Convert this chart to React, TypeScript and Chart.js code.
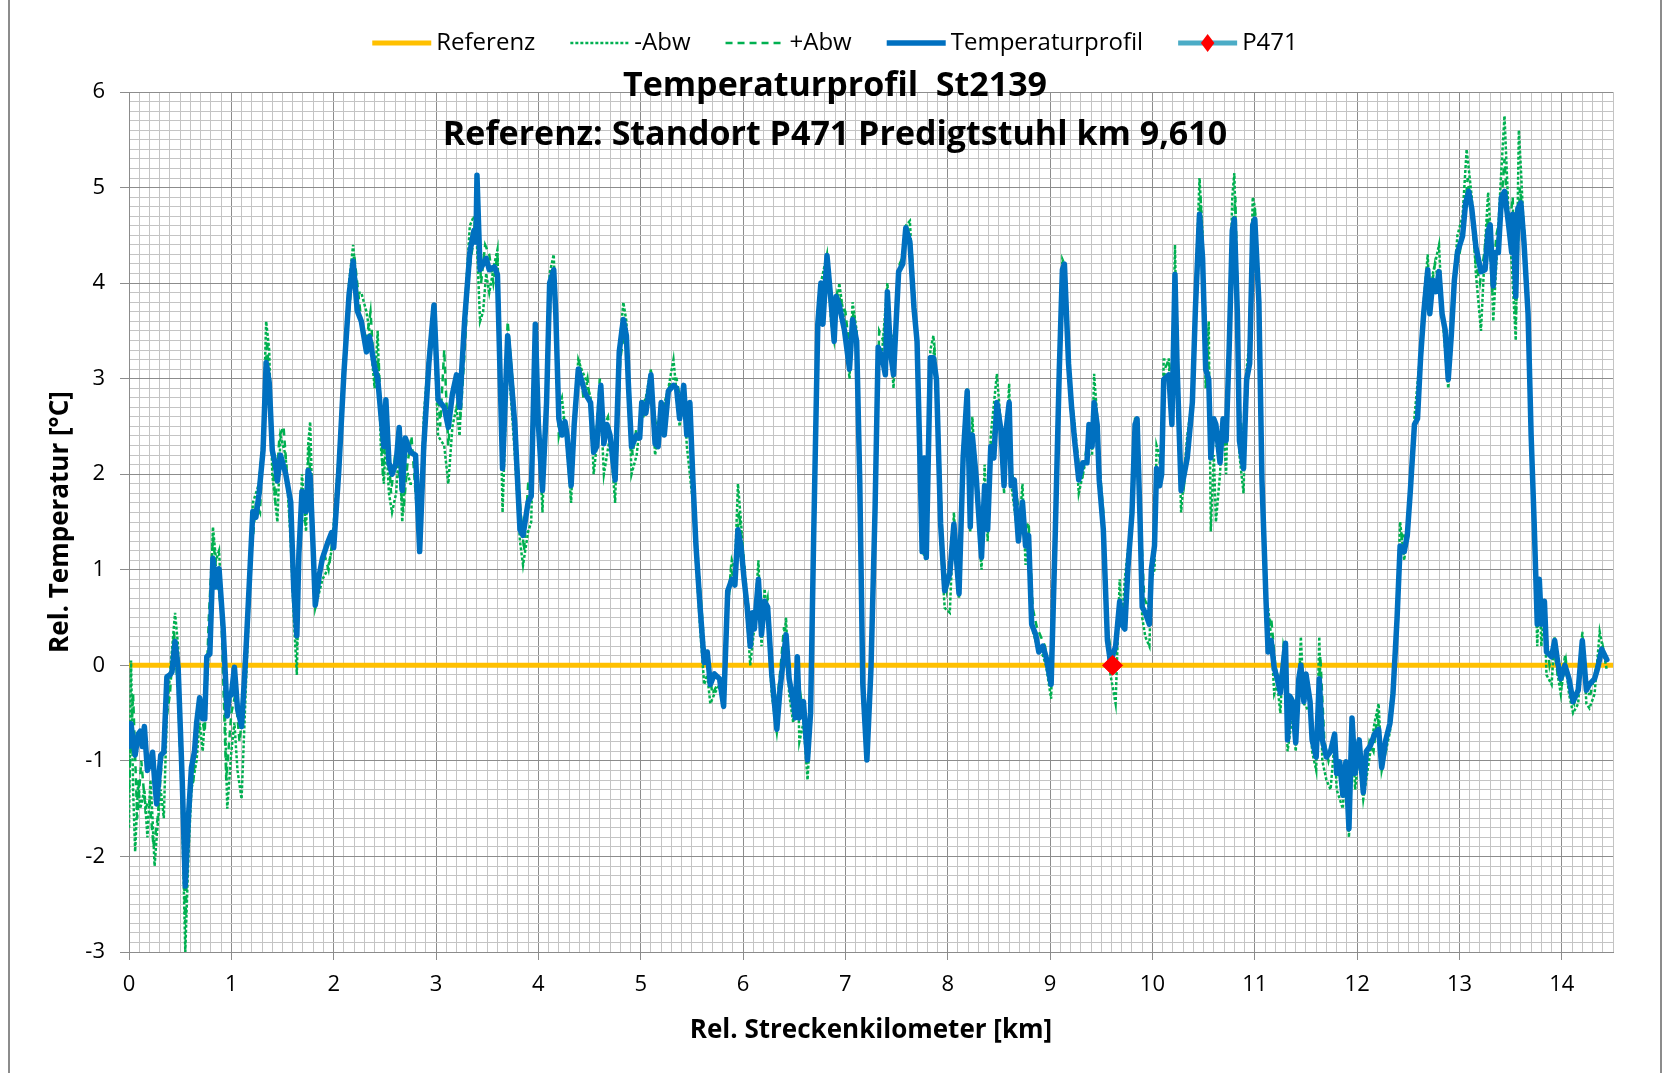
import React, { useEffect, useRef } from 'react';
import { Chart, registerables } from 'chart.js';

Chart.register(...registerables);

const FONT = '"Open Sans", Lato, sans-serif';

const titleLines = ['Temperaturprofil  St2139', 'Referenz: Standort P471 Predigtstuhl km 9,610'];
const xAxisTitle = 'Rel. Streckenkilometer [km]';
const yAxisTitle = 'Rel. Temperatur [°C]';
const legendLabels = ['Referenz', '-Abw', '+Abw', 'Temperaturprofil', 'P471'];

const xMin = 0;
const xMax = 14.5;
const yMin = -3;
const yMax = 6;
const gridStep = 0.1;

const referenz: [number, number][] = [[0, 0], [14.5, 0]];
const p471: [number, number][] = [[9.61, 0]];

const temperaturprofil: [number, number][] = [
  [0.00,-0.85],[0.02,-0.61],[0.04,-0.8],[0.06,-0.94],[0.09,-0.72],[0.11,-0.69],[0.13,-0.85],[0.15,-0.64],[0.18,-1.1],[0.21,-1.0],
  [0.23,-0.91],[0.25,-1.2],[0.27,-1.45],[0.29,-1.2],[0.31,-0.94],[0.34,-0.91],[0.37,-0.12],[0.40,-0.1],[0.42,-0.07],[0.45,0.25],
  [0.48,-0.02],[0.52,-1.2],[0.55,-2.31],[0.58,-1.6],[0.61,-1.07],[0.64,-0.9],[0.66,-0.61],[0.69,-0.34],[0.72,-0.56],[0.74,-0.56],
  [0.76,0.09],[0.79,0.12],[0.82,1.12],[0.85,0.82],[0.88,1.01],[0.92,0.39],[0.96,-0.53],[0.98,-0.3],[1.00,-0.31],[1.03,-0.02],
  [1.06,-0.45],[1.10,-0.64],[1.13,-0.1],[1.15,0.31],[1.18,0.96],[1.21,1.61],[1.24,1.55],[1.27,1.79],[1.31,2.25],[1.34,3.17],
  [1.37,2.96],[1.40,2.25],[1.43,2.1],[1.45,1.93],[1.48,2.2],[1.53,2.01],[1.58,1.71],[1.61,0.79],[1.64,0.31],[1.66,1.17],
  [1.69,1.82],[1.73,1.61],[1.75,2.04],[1.77,1.98],[1.80,1.2],[1.82,0.63],[1.86,0.95],[1.89,1.12],[1.94,1.28],[1.98,1.39],
  [2.00,1.23],[2.05,2.04],[2.10,3.06],[2.15,3.88],[2.19,4.23],[2.23,3.71],[2.27,3.6],[2.32,3.28],[2.35,3.44],[2.40,3.12],
  [2.43,3.0],[2.46,2.64],[2.49,2.29],[2.51,2.78],[2.54,2.12],[2.57,2.0],[2.61,2.12],[2.64,2.49],[2.67,1.83],[2.70,2.38],
  [2.75,2.23],[2.80,2.2],[2.84,1.19],[2.88,2.29],[2.93,3.16],[2.98,3.77],[3.02,2.78],[3.08,2.7],[3.12,2.49],[3.16,2.84],
  [3.20,3.04],[3.23,2.7],[3.28,3.62],[3.33,4.32],[3.37,4.55],[3.39,4.43],[3.40,5.13],[3.43,4.14],[3.46,4.2],[3.49,4.26],
  [3.52,4.14],[3.57,4.17],[3.60,4.09],[3.65,2.06],[3.70,3.45],[3.77,2.52],[3.82,1.42],[3.85,1.36],[3.90,1.71],[3.93,1.77],
  [3.97,3.57],[4.00,2.52],[4.04,1.83],[4.08,2.75],[4.11,4.0],[4.15,4.14],[4.17,3.68],[4.20,2.58],[4.23,2.41],[4.26,2.55],
  [4.28,2.41],[4.32,1.88],[4.35,2.52],[4.39,3.1],[4.42,2.99],[4.46,2.84],[4.51,2.75],[4.54,2.23],[4.57,2.29],[4.61,2.93],
  [4.64,2.32],[4.67,2.52],[4.70,2.41],[4.75,1.94],[4.79,3.28],[4.83,3.62],[4.86,3.45],[4.88,2.93],[4.91,2.29],[4.96,2.41],
  [4.99,2.38],[5.01,2.75],[5.05,2.64],[5.10,3.04],[5.14,2.32],[5.17,2.29],[5.20,2.75],[5.23,2.41],[5.27,2.87],[5.32,2.93],
  [5.35,2.9],[5.38,2.58],[5.42,2.93],[5.45,2.41],[5.48,2.75],[5.51,1.94],[5.54,1.25],[5.58,0.61],[5.62,0.03],[5.65,0.14],
  [5.68,-0.2],[5.72,-0.09],[5.77,-0.14],[5.81,-0.43],[5.85,0.78],[5.89,0.9],[5.92,0.84],[5.95,1.42],[5.98,1.25],[6.01,0.9],
  [6.04,0.61],[6.07,0.2],[6.09,0.55],[6.11,0.38],[6.15,0.9],[6.18,0.32],[6.21,0.67],[6.24,0.61],[6.28,-0.09],[6.33,-0.67],
  [6.36,-0.26],[6.42,0.32],[6.45,-0.14],[6.49,-0.38],[6.51,-0.55],[6.53,0.09],[6.55,-0.55],[6.59,-0.38],[6.63,-0.99],[6.66,-0.49],
  [6.69,1.36],[6.73,3.57],[6.76,4.0],[6.78,3.57],[6.82,4.29],[6.86,3.8],[6.89,3.39],[6.91,3.86],[6.94,3.77],[6.99,3.51],
  [7.04,3.1],[7.07,3.62],[7.11,3.39],[7.14,1.94],[7.17,-0.2],[7.21,-0.99],[7.25,-0.03],[7.29,1.65],[7.32,3.33],[7.36,3.22],
  [7.39,3.04],[7.41,3.91],[7.44,3.28],[7.47,3.04],[7.52,4.12],[7.56,4.2],[7.59,4.58],[7.63,4.43],[7.67,3.74],[7.70,3.39],
  [7.75,1.19],[7.77,2.17],[7.79,1.13],[7.83,3.22],[7.86,3.22],[7.89,2.99],[7.93,1.48],[7.97,0.78],[8.02,0.96],[8.06,1.48],
  [8.11,0.75],[8.15,2.17],[8.19,2.87],[8.22,1.45],[8.24,2.41],[8.28,1.94],[8.33,1.13],[8.36,1.88],[8.39,1.42],[8.42,2.29],
  [8.45,2.17],[8.48,2.75],[8.52,2.46],[8.55,1.88],[8.57,2.46],[8.60,2.75],[8.62,1.88],[8.65,1.94],[8.69,1.3],[8.73,1.71],
  [8.76,1.25],[8.79,1.36],[8.82,0.43],[8.86,0.32],[8.89,0.14],[8.93,0.2],[8.96,0.09],[9.01,-0.2],[9.05,1.36],[9.09,3.1],
  [9.12,4.14],[9.14,4.2],[9.18,3.16],[9.21,2.7],[9.24,2.35],[9.28,1.94],[9.32,2.12],[9.36,2.12],[9.38,2.52],[9.41,2.29],
  [9.43,2.75],[9.46,2.52],[9.48,1.94],[9.52,1.42],[9.56,0.26],[9.59,0.03],[9.64,0.2],[9.68,0.67],[9.70,0.43],[9.73,0.38],
  [9.76,1.01],[9.80,1.59],[9.83,2.52],[9.85,2.58],[9.88,1.48],[9.90,0.61],[9.93,0.55],[9.97,0.43],[9.99,1.01],[10.02,1.25],
  [10.04,2.06],[10.07,1.88],[10.09,2.0],[10.11,2.99],[10.16,3.04],[10.19,2.52],[10.22,4.09],[10.24,3.16],[10.28,1.83],[10.31,2.0],
  [10.34,2.17],[10.39,2.75],[10.42,3.74],[10.46,4.72],[10.49,4.26],[10.52,3.1],[10.55,2.99],[10.57,2.17],[10.60,2.58],[10.62,2.52],
  [10.66,2.12],[10.69,2.58],[10.72,2.35],[10.75,3.33],[10.78,4.55],[10.80,4.67],[10.83,3.68],[10.85,2.35],[10.89,2.06],[10.92,2.99],
  [10.95,3.16],[10.98,4.61],[11.00,4.67],[11.04,3.8],[11.07,1.94],[11.11,0.67],[11.13,0.14],[11.16,0.26],[11.19,-0.03],[11.22,-0.14],
  [11.25,-0.29],[11.28,0.03],[11.30,0.23],[11.32,-0.78],[11.34,-0.32],[11.37,-0.38],[11.40,-0.81],[11.43,-0.14],[11.45,0.0],[11.48,-0.38],
  [11.50,-0.09],[11.54,-0.38],[11.56,-0.78],[11.60,-0.96],[11.63,-0.14],[11.66,-0.78],[11.70,-0.96],[11.74,-0.9],[11.78,-0.72],[11.80,-1.13],
  [11.83,-1.01],[11.86,-1.36],[11.89,-1.01],[11.92,-1.71],[11.95,-0.55],[11.98,-1.13],[12.02,-0.78],[12.06,-1.33],[12.09,-0.9],[12.13,-0.84],
  [12.17,-0.72],[12.21,-0.67],[12.24,-1.07],[12.28,-0.78],[12.32,-0.61],[12.35,-0.3],[12.39,0.49],[12.42,1.25],[12.46,1.19],[12.49,1.36],
  [12.52,1.83],[12.56,2.52],[12.59,2.58],[12.62,3.22],[12.65,3.68],[12.69,4.14],[12.71,3.68],[12.74,4.03],[12.77,3.91],[12.80,4.12],
  [12.83,3.68],[12.86,3.51],[12.89,2.99],[12.92,3.45],[12.95,4.03],[12.98,4.32],[13.03,4.49],[13.06,4.84],[13.09,4.96],[13.12,4.78],
  [13.16,4.38],[13.21,4.12],[13.25,4.14],[13.28,4.55],[13.30,4.61],[13.33,3.97],[13.35,4.32],[13.38,4.32],[13.41,4.9],[13.44,4.96],
  [13.48,4.61],[13.51,4.32],[13.52,4.72],[13.55,3.86],[13.57,4.78],[13.60,4.84],[13.63,4.43],[13.67,3.68],[13.70,2.41],[13.73,1.48],
  [13.76,0.43],[13.78,0.9],[13.80,0.43],[13.83,0.67],[13.85,0.14],[13.90,0.09],[13.93,0.26],[13.96,0.03],[13.99,-0.14],[14.03,0.0],
  [14.07,-0.14],[14.11,-0.38],[14.16,-0.26],[14.20,0.26],[14.24,-0.26],[14.27,-0.2],[14.32,-0.14],[14.35,-0.03],[14.39,0.17],[14.44,0.06]
];

const minusAbw: [number, number][] = [
  [0.00,-1.7],[0.02,0.05],[0.04,-1.3],[0.06,-1.95],[0.09,-1.2],[0.11,-1.5],[0.15,-1.3],[0.18,-1.8],[0.21,-1.2],[0.23,-1.6],
  [0.25,-2.1],[0.27,-1.8],[0.31,-1.3],[0.34,-1.6],[0.37,-0.5],[0.40,-0.1],[0.45,0.55],[0.48,0.2],[0.52,-1.6],[0.55,-3.0],
  [0.58,-2.0],[0.61,-1.3],[0.66,-1.0],[0.69,-0.6],[0.72,-0.9],[0.76,-0.2],[0.79,0.4],[0.82,1.45],[0.85,1.1],[0.88,1.2],
  [0.92,0.3],[0.96,-1.5],[1.00,-0.9],[1.03,-0.6],[1.06,-1.1],[1.10,-1.4],[1.15,0.0],[1.18,0.8],[1.21,1.7],[1.27,1.9],
  [1.31,2.4],[1.34,3.6],[1.37,3.3],[1.40,2.0],[1.45,1.5],[1.48,2.4],[1.53,2.2],[1.58,1.3],[1.61,0.5],[1.64,-0.1],
  [1.66,1.0],[1.69,2.0],[1.73,1.4],[1.75,2.3],[1.77,2.55],[1.82,0.6],[1.89,0.9],[1.94,1.0],[1.98,1.2],[2.05,2.2],
  [2.10,3.2],[2.15,4.0],[2.19,4.4],[2.23,3.9],[2.27,3.9],[2.32,3.7],[2.35,3.5],[2.40,2.9],[2.43,3.5],[2.46,2.3],
  [2.49,1.9],[2.51,2.4],[2.54,1.8],[2.57,1.6],[2.61,1.8],[2.64,2.3],[2.67,1.5],[2.70,2.1],[2.75,1.9],[2.80,1.9],
  [2.84,1.2],[2.88,2.6],[2.93,3.3],[2.98,3.6],[3.02,2.4],[3.08,2.3],[3.12,1.9],[3.16,2.5],[3.20,2.7],[3.23,2.4],
  [3.28,3.7],[3.33,4.6],[3.37,4.7],[3.40,4.4],[3.43,3.6],[3.46,3.7],[3.49,4.1],[3.52,3.9],[3.57,4.2],[3.60,4.35],
  [3.65,1.6],[3.70,3.3],[3.77,2.2],[3.82,1.3],[3.85,1.05],[3.90,1.4],[3.93,1.5],[3.97,3.4],[4.04,1.6],[4.08,2.9],
  [4.11,4.1],[4.15,4.3],[4.20,2.7],[4.23,2.8],[4.28,2.3],[4.32,1.7],[4.35,2.6],[4.39,3.2],[4.42,3.1],[4.46,3.0],
  [4.51,2.8],[4.54,2.0],[4.61,2.7],[4.64,2.0],[4.70,2.4],[4.75,1.7],[4.79,3.3],[4.83,3.8],[4.86,3.6],[4.91,2.0],
  [4.96,2.2],[5.01,2.7],[5.05,2.8],[5.10,3.1],[5.14,2.2],[5.20,2.6],[5.27,2.9],[5.32,3.2],[5.38,2.5],[5.42,2.9],
  [5.45,2.3],[5.51,1.7],[5.54,1.1],[5.58,0.4],[5.62,-0.2],[5.65,-0.1],[5.68,-0.4],[5.72,-0.3],[5.77,-0.2],[5.81,-0.45],
  [5.85,0.6],[5.89,1.1],[5.92,1.0],[5.95,1.9],[5.98,1.5],[6.01,1.0],[6.04,0.5],[6.07,0.0],[6.11,0.4],[6.15,1.1],
  [6.18,0.2],[6.21,0.8],[6.24,0.5],[6.28,-0.3],[6.33,-0.7],[6.36,-0.4],[6.42,0.5],[6.45,-0.3],[6.49,-0.6],[6.53,0.1],
  [6.55,-0.8],[6.59,-0.6],[6.63,-1.2],[6.66,-0.6],[6.69,1.2],[6.73,3.6],[6.76,4.0],[6.82,4.3],[6.86,3.6],[6.89,3.4],
  [6.94,4.0],[6.99,3.6],[7.04,3.0],[7.07,3.8],[7.11,3.5],[7.14,1.9],[7.17,-0.2],[7.21,-1.0],[7.25,0.0],[7.29,1.6],
  [7.32,3.3],[7.36,3.3],[7.41,4.0],[7.44,3.4],[7.47,2.9],[7.52,4.1],[7.56,4.25],[7.59,4.6],[7.63,4.65],[7.67,3.8],
  [7.70,3.2],[7.75,1.2],[7.79,1.1],[7.83,3.3],[7.86,3.45],[7.89,3.0],[7.93,1.3],[7.97,0.6],[8.02,0.55],[8.06,1.6],
  [8.11,0.7],[8.15,2.2],[8.19,2.9],[8.22,1.4],[8.24,2.6],[8.28,1.8],[8.33,1.0],[8.36,2.1],[8.39,1.3],[8.42,2.4],
  [8.48,3.05],[8.52,2.5],[8.55,1.8],[8.60,2.95],[8.62,1.9],[8.69,1.3],[8.73,1.9],[8.76,1.05],[8.79,1.4],[8.82,0.4],
  [8.86,0.25],[8.93,0.1],[8.96,0.0],[9.01,-0.35],[9.05,1.4],[9.09,3.2],[9.12,4.25],[9.14,4.2],[9.18,3.1],[9.24,2.5],
  [9.28,1.8],[9.36,2.2],[9.41,2.2],[9.43,3.05],[9.46,2.6],[9.48,2.0],[9.52,1.3],[9.56,0.2],[9.59,-0.1],[9.64,-0.4],
  [9.68,0.9],[9.70,0.4],[9.73,0.9],[9.76,1.2],[9.80,1.5],[9.83,2.6],[9.85,2.4],[9.88,1.3],[9.90,0.5],[9.93,0.3],
  [9.97,0.2],[9.99,0.9],[10.02,1.0],[10.04,2.3],[10.09,2.1],[10.11,3.2],[10.16,3.2],[10.19,2.5],[10.22,4.4],[10.24,3.2],
  [10.28,1.6],[10.34,2.4],[10.39,2.8],[10.42,3.9],[10.46,5.1],[10.49,4.5],[10.52,2.9],[10.55,3.6],[10.57,1.4],[10.60,2.2],
  [10.62,1.5],[10.66,2.0],[10.69,2.6],[10.72,2.0],[10.75,3.5],[10.78,4.9],[10.80,5.15],[10.83,3.9],[10.85,2.2],[10.89,1.8],
  [10.92,3.1],[10.95,3.4],[10.98,4.9],[11.00,4.8],[11.04,3.8],[11.07,1.9],[11.11,0.5],[11.13,0.6],[11.16,0.3],[11.19,-0.3],
  [11.22,-0.2],[11.25,-0.5],[11.28,0.2],[11.30,0.1],[11.32,-0.9],[11.37,-0.5],[11.40,-0.9],[11.45,0.3],[11.48,-0.4],[11.54,-0.5],
  [11.56,-0.9],[11.60,-1.1],[11.63,0.3],[11.66,-1.0],[11.70,-1.2],[11.74,-1.3],[11.78,-0.8],[11.80,-1.3],[11.86,-1.5],[11.89,-1.0],
  [11.92,-1.8],[11.95,-0.6],[11.98,-1.3],[12.02,-0.9],[12.06,-1.4],[12.13,-0.9],[12.17,-0.6],[12.21,-0.4],[12.24,-1.1],[12.32,-0.7],
  [12.35,-0.4],[12.39,0.6],[12.42,1.5],[12.46,1.1],[12.49,1.4],[12.56,2.6],[12.62,3.3],[12.65,3.8],[12.69,4.3],[12.71,3.7],
  [12.74,4.1],[12.80,4.4],[12.83,3.7],[12.86,3.3],[12.89,2.9],[12.92,3.3],[12.95,4.1],[12.98,4.5],[13.03,4.7],[13.07,5.4],
  [13.12,4.9],[13.16,4.1],[13.21,3.5],[13.25,4.4],[13.28,4.95],[13.30,4.6],[13.33,3.6],[13.38,4.6],[13.41,5.2],[13.44,5.75],
  [13.48,4.7],[13.51,4.2],[13.55,3.4],[13.58,5.6],[13.60,5.2],[13.63,4.5],[13.67,3.6],[13.70,2.3],[13.73,1.4],[13.76,0.2],
  [13.78,0.9],[13.80,0.2],[13.83,0.6],[13.85,-0.1],[13.90,-0.2],[13.93,0.3],[13.96,-0.1],[13.99,-0.3],[14.03,0.1],[14.07,-0.3],
  [14.11,-0.5],[14.16,-0.4],[14.20,0.35],[14.24,-0.4],[14.27,-0.45],[14.32,-0.3],[14.37,0.35],[14.44,-0.05]
];

const plusAbw: [number, number][] = [
  [0.00,-1.3],[0.04,-0.3],[0.08,-1.6],[0.12,-1.0],[0.16,-1.5],[0.20,-1.4],[0.24,-1.9],[0.28,-1.6],[0.32,-1.0],[0.36,-0.6],
  [0.40,-0.3],[0.44,0.35],[0.48,-0.3],[0.52,-1.5],[0.55,-2.7],[0.59,-1.4],[0.63,-1.2],[0.67,-0.5],[0.70,-0.5],[0.74,-0.7],
  [0.78,0.5],[0.82,1.35],[0.86,0.9],[0.90,0.6],[0.95,-1.2],[1.00,-0.5],[1.04,-0.3],[1.08,-0.8],[1.11,-0.5],[1.16,0.4],
  [1.20,1.2],[1.24,1.7],[1.28,1.6],[1.32,2.7],[1.35,3.4],[1.39,2.4],[1.43,1.7],[1.47,2.4],[1.51,2.5],[1.55,1.9],
  [1.60,1.0],[1.64,0.2],[1.68,1.6],[1.72,1.5],[1.76,2.3],[1.80,1.0],[1.84,0.8],[1.90,1.2],[1.95,1.0],[2.00,1.4],
  [2.05,1.9],[2.10,3.2],[2.15,3.7],[2.20,4.3],[2.24,3.9],[2.28,3.5],[2.32,3.4],[2.36,3.7],[2.40,3.0],[2.44,3.2],
  [2.48,2.0],[2.52,2.6],[2.56,1.8],[2.60,2.2],[2.64,2.0],[2.68,1.6],[2.72,2.1],[2.76,2.4],[2.80,1.8],[2.84,1.3],
  [2.88,2.0],[2.92,3.0],[2.96,3.5],[3.00,3.3],[3.04,2.5],[3.08,3.3],[3.12,2.3],[3.16,2.9],[3.20,3.0],[3.24,2.6],
  [3.28,3.3],[3.32,4.1],[3.36,4.4],[3.40,4.9],[3.44,4.0],[3.48,4.4],[3.52,4.3],[3.56,4.0],[3.60,4.3],[3.65,2.2],
  [3.70,3.6],[3.76,2.8],[3.82,1.7],[3.86,1.2],[3.90,1.9],[3.94,1.9],[3.97,3.4],[4.01,2.3],[4.05,1.9],[4.09,3.0],
  [4.12,3.9],[4.16,4.0],[4.20,2.4],[4.24,2.6],[4.28,2.5],[4.32,2.0],[4.36,2.7],[4.40,3.2],[4.44,2.8],[4.48,3.0],
  [4.52,2.6],[4.56,2.3],[4.60,3.0],[4.64,2.5],[4.68,2.6],[4.72,2.2],[4.76,2.0],[4.80,3.2],[4.84,3.5],[4.88,3.0],
  [4.92,2.2],[4.96,2.5],[5.00,2.5],[5.05,2.7],[5.10,2.9],[5.15,2.5],[5.20,2.6],[5.25,2.8],[5.30,3.0],[5.35,3.0],
  [5.40,2.7],[5.45,2.5],[5.50,2.3],[5.54,1.4],[5.58,0.8],[5.62,0.2],[5.66,0.0],[5.70,-0.3],[5.75,-0.2],[5.80,-0.3],
  [5.84,0.4],[5.88,1.0],[5.92,0.9],[5.96,1.6],[6.00,1.2],[6.04,0.7],[6.08,0.4],[6.12,0.5],[6.16,0.8],[6.20,0.5],
  [6.24,0.7],[6.28,0.0],[6.32,-0.5],[6.36,-0.1],[6.40,0.4],[6.44,0.0],[6.48,-0.3],[6.52,-0.5],[6.56,-0.3],[6.60,-0.6],
  [6.64,-0.9],[6.68,0.8],[6.72,3.2],[6.76,3.9],[6.80,3.9],[6.84,4.1],[6.88,3.6],[6.92,3.9],[6.96,3.8],[7.00,3.7],
  [7.04,3.3],[7.08,3.7],[7.12,3.3],[7.15,1.4],[7.18,-0.4],[7.21,-0.9],[7.25,0.2],[7.29,1.8],[7.33,3.5],[7.37,3.4],
  [7.41,3.8],[7.45,3.4],[7.49,3.5],[7.53,4.2],[7.57,4.3],[7.61,4.55],[7.65,4.3],[7.69,3.5],[7.72,2.6],[7.75,1.4],
  [7.79,1.5],[7.83,3.1],[7.87,3.3],[7.91,2.5],[7.95,1.2],[7.99,0.8],[8.03,1.1],[8.07,1.3],[8.11,0.9],[8.15,2.0],
  [8.19,2.7],[8.23,1.8],[8.27,2.2],[8.31,1.4],[8.35,1.6],[8.39,1.6],[8.43,2.3],[8.47,2.6],[8.51,2.6],[8.55,2.0],
  [8.59,2.7],[8.63,2.0],[8.67,1.8],[8.71,1.5],[8.75,1.4],[8.79,1.5],[8.83,0.6],[8.87,0.4],[8.91,0.3],[8.95,0.2],
  [9.00,-0.1],[9.04,1.0],[9.08,2.8],[9.12,4.0],[9.16,3.8],[9.20,2.9],[9.24,2.5],[9.28,2.1],[9.32,2.0],[9.36,2.3],
  [9.40,2.4],[9.44,2.8],[9.48,2.1],[9.52,1.6],[9.56,0.4],[9.60,0.1],[9.64,0.1],[9.68,0.6],[9.72,0.6],[9.76,1.0],
  [9.80,1.8],[9.84,2.4],[9.88,1.6],[9.92,0.7],[9.96,0.6],[10.00,1.0],[10.04,1.9],[10.08,2.2],[10.12,3.1],[10.16,3.2],
  [10.20,2.8],[10.23,4.0],[10.27,2.2],[10.31,1.9],[10.35,2.3],[10.39,2.6],[10.43,3.9],[10.47,4.9],[10.51,3.8],[10.55,3.1],
  [10.58,2.4],[10.62,2.3],[10.66,2.3],[10.70,2.4],[10.74,2.8],[10.78,4.4],[10.81,4.9],[10.85,2.7],[10.89,2.3],[10.93,2.9],
  [10.97,4.3],[11.00,4.8],[11.04,3.9],[11.08,1.6],[11.12,0.4],[11.16,0.5],[11.20,0.0],[11.24,-0.2],[11.28,0.1],[11.32,-0.6],
  [11.36,-0.3],[11.40,-0.7],[11.44,0.05],[11.48,-0.3],[11.52,-0.2],[11.56,-0.7],[11.60,-0.8],[11.64,0.1],[11.68,-0.8],[11.72,-1.0],
  [11.76,-0.8],[11.80,-1.0],[11.84,-1.2],[11.88,-1.1],[11.92,-1.6],[11.96,-0.7],[12.00,-1.0],[12.04,-1.1],[12.08,-1.1],[12.12,-0.8],
  [12.16,-0.9],[12.20,-0.5],[12.24,-1.0],[12.28,-0.9],[12.32,-0.5],[12.36,-0.1],[12.40,0.8],[12.44,1.4],[12.48,1.3],[12.52,1.9],
  [12.56,2.4],[12.60,2.8],[12.64,3.4],[12.68,4.0],[12.72,3.9],[12.76,4.2],[12.80,4.0],[12.84,3.6],[12.88,3.1],[12.92,3.6],
  [12.96,4.2],[13.00,4.3],[13.04,4.6],[13.08,5.1],[13.12,4.7],[13.16,4.2],[13.20,4.0],[13.24,4.3],[13.28,4.7],[13.32,3.9],
  [13.36,4.5],[13.40,4.7],[13.44,5.3],[13.48,4.5],[13.52,4.9],[13.55,3.6],[13.59,5.0],[13.63,4.6],[13.67,3.7],[13.71,2.1],
  [13.74,1.2],[13.77,0.6],[13.80,0.5],[13.84,0.4],[13.88,0.0],[13.92,0.2],[13.96,-0.1],[14.00,-0.2],[14.04,0.05],[14.08,-0.3],
  [14.12,-0.4],[14.16,-0.2],[14.20,0.2],[14.24,-0.3],[14.28,-0.3],[14.32,-0.1],[14.36,0.1],[14.40,0.2],[14.44,0.0]
];

const COLORS = {
  referenz: '#FFC000',
  abw: '#00B050',
  temp: '#0070C0',
  p471Line: '#4BACC6',
  p471Marker: '#FF0000',
  gridMajor: '#8c8c8c',
  gridMinor: '#c4c4c4',
};

const toXY = (pts: [number, number][]) => pts.map(([x, y]) => ({ x, y }));
const isInt = (v: number) => Math.abs(v - Math.round(v)) < 1e-6;

const overlayPlugin = {
  id: 'overlay',
  afterDraw(chart: any) {
    const { ctx, width } = chart;
    const cx = width / 2;
    ctx.save();
    // Title (overlaid on the plot)
    ctx.fillStyle = '#000';
    ctx.textAlign = 'center';
    ctx.textBaseline = 'middle';
    ctx.font = `bold 34px ${FONT}`;
    titleLines.forEach((t, i) => ctx.fillText(t, cx, 78 + i * 49));

    // Legend
    ctx.font = `24px ${FONT}`;
    const symW = 59;
    const gapText = 5;
    const gapItem = 35;
    const widths = legendLabels.map((l) => symW + gapText + ctx.measureText(l).width);
    const total = widths.reduce((a, b) => a + b, 0) + gapItem * (legendLabels.length - 1);
    let x = cx - total / 2;
    const y = 35;
    chart.data.datasets.forEach((ds: any, i: number) => {
      ctx.save();
      ctx.strokeStyle = ds.borderColor;
      ctx.lineWidth = ds.borderWidth;
      ctx.setLineDash(ds.borderDash || []);
      ctx.beginPath();
      ctx.moveTo(x, y);
      ctx.lineTo(x + symW, y);
      ctx.stroke();
      if (ds.legendMarker) {
        const mx = x + symW / 2;
        const r = 9;
        ctx.setLineDash([]);
        ctx.fillStyle = ds.pointBackgroundColor;
        ctx.beginPath();
        ctx.moveTo(mx, y - r);
        ctx.lineTo(mx + r * 0.75, y);
        ctx.lineTo(mx, y + r);
        ctx.lineTo(mx - r * 0.75, y);
        ctx.closePath();
        ctx.fill();
      }
      ctx.restore();
      ctx.fillStyle = '#000';
      ctx.textAlign = 'left';
      ctx.textBaseline = 'middle';
      ctx.fillText(legendLabels[i], x + symW + gapText, y);
      x += widths[i] + gapItem;
    });
    ctx.restore();
  },
};

export default function App() {
  const canvasRef = useRef<HTMLCanvasElement | null>(null);

  useEffect(() => {
    if (!canvasRef.current) return;
    const gridColor = (c: any) => (c.tick && isInt(c.tick.value) ? COLORS.gridMajor : COLORS.gridMinor);
    const tickColor = (c: any) => (c.tick && isInt(c.tick.value) ? COLORS.gridMajor : 'rgba(0,0,0,0)');
    const chart = new Chart(canvasRef.current, {
      type: 'line',
      data: {
        datasets: [
          {
            label: legendLabels[0],
            data: toXY(referenz),
            borderColor: COLORS.referenz,
            backgroundColor: COLORS.referenz,
            borderWidth: 5,
            pointRadius: 0,
            order: 4,
          },
          {
            label: legendLabels[1],
            data: toXY(minusAbw),
            borderColor: COLORS.abw,
            backgroundColor: COLORS.abw,
            borderWidth: 2.5,
            borderDash: [3, 2],
            pointRadius: 0,
            order: 3,
          },
          {
            label: legendLabels[2],
            data: toXY(plusAbw),
            borderColor: COLORS.abw,
            backgroundColor: COLORS.abw,
            borderWidth: 2.5,
            borderDash: [7, 5],
            pointRadius: 0,
            order: 2,
          },
          {
            label: legendLabels[3],
            data: toXY(temperaturprofil),
            borderColor: COLORS.temp,
            backgroundColor: COLORS.temp,
            borderWidth: 5.5,
            borderJoinStyle: 'round',
            borderCapStyle: 'round',
            pointRadius: 0,
            order: 1,
          },
          {
            label: legendLabels[4],
            data: toXY(p471),
            borderColor: COLORS.p471Line,
            backgroundColor: COLORS.p471Marker,
            borderWidth: 5,
            showLine: false,
            pointStyle: 'rectRot',
            pointRadius: 10,
            pointBackgroundColor: COLORS.p471Marker,
            pointBorderColor: COLORS.p471Marker,
            pointBorderWidth: 1,
            legendMarker: true,
            order: 0,
          } as any,
        ],
      },
      options: {
        animation: false,
        responsive: false,
        maintainAspectRatio: false,
        events: [],
        layout: { padding: { top: 84, right: 47, bottom: 0, left: 0 } },
        plugins: {
          legend: { display: false },
          title: { display: false },
          tooltip: { enabled: false },
        },
        elements: { line: { tension: 0 } },
        scales: {
          x: {
            type: 'linear',
            position: 'bottom',
            min: xMin,
            max: xMax,
            afterFit: (s: any) => {
              s.height = 113;
            },
            ticks: {
              stepSize: gridStep,
              autoSkip: false,
              maxRotation: 0,
              minRotation: 0,
              maxTicksLimit: 1000,
              padding: 12,
              color: '#000',
              font: { family: FONT, size: 22 },
              callback: (v: any) => (isInt(Number(v)) ? String(Math.round(Number(v))) : ''),
            },
            grid: { color: gridColor, tickColor, tickLength: 8, lineWidth: 1 },
            border: { color: COLORS.gridMajor, width: 1 },
            title: {
              display: true,
              text: xAxisTitle,
              color: '#000',
              font: { family: FONT, size: 26, weight: 'bold' },
              padding: { top: 0, bottom: 19 },
            },
          },
          y: {
            type: 'linear',
            min: yMin,
            max: yMax,
            afterFit: (s: any) => {
              s.width = 119;
            },
            ticks: {
              stepSize: gridStep,
              autoSkip: false,
              maxTicksLimit: 1000,
              padding: 15,
              color: '#000',
              font: { family: FONT, size: 22 },
              callback: (v: any) => (isInt(Number(v)) ? String(Math.round(Number(v))) : ''),
            },
            grid: { color: gridColor, tickColor, tickLength: 9, lineWidth: 1 },
            border: { color: COLORS.gridMajor, width: 1 },
            title: {
              display: true,
              text: yAxisTitle,
              color: '#000',
              font: { family: FONT, size: 26, weight: 'bold' },
              padding: { top: 35, bottom: 0 },
            },
          },
        },
      },
      plugins: [overlayPlugin],
    } as any);
    return () => chart.destroy();
  }, []);

  return (
    <div
      style={{
        position: 'fixed',
        top: 0,
        left: 8,
        width: 1654,
        height: 1073,
        paddingTop: 8,
        boxSizing: 'border-box',
        borderLeft: '2px solid #8c8c8c',
        borderRight: '2px solid #8c8c8c',
        background: '#fff',
      }}
    >
      <canvas ref={canvasRef} width={1650} height={1057} style={{ display: 'block', width: 1650, height: 1057 }} />
    </div>
  );
}
